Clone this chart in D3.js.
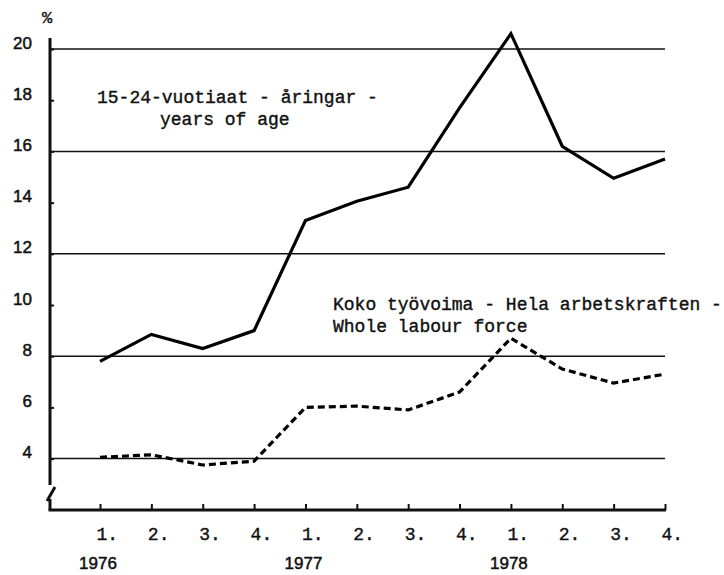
<!DOCTYPE html>
<html>
<head>
<meta charset="utf-8">
<script src="https://cdn.jsdelivr.net/npm/d3@7"></script>
<style>
  html, body { margin: 0; padding: 0; background: #fff; }
  svg { display: block; }
</style>
</head>
<body>
<svg id="chart" width="724" height="575"></svg>
<script>
// ---- data ----
const quarters = ["1.", "2.", "3.", "4.", "1.", "2.", "3.", "4.", "1.", "2.", "3.", "4."];
const years = ["1976", "1977", "1978"];
const youth = [7.8, 8.85, 8.3, 9.0, 13.3, 14.05, 14.6, 17.7, 20.6, 16.2, 14.95, 15.7];
const total = [4.05, 4.15, 3.75, 3.9, 6.0, 6.05, 5.9, 6.6, 8.7, 7.5, 6.95, 7.3];
const yTicks = [4, 6, 8, 10, 12, 14, 16, 18, 20];
const gridValues = [4, 8, 12, 16, 20];
const youthLabel = ["15-24-vuotiaat - åringar -", "years of age"];
const totalLabel = ["Koko työvoima - Hela arbetskraften -", "Whole labour force"];

// ---- layout ----
const svg = d3.select("#chart");
const axisX = 50, axisY = 510, plotRight = 665;
const x = d3.scaleLinear().domain([0, quarters.length - 1]).range([100, 665]);
const y = d3.scaleLinear().domain([4, 20]).range([458.6, 49]);
const mono = "'Liberation Mono', 'Courier New', monospace";
const sans = "'Liberation Sans', Arial, sans-serif";

// gridlines
svg.append("g").selectAll("line").data(gridValues).join("line")
  .attr("x1", axisX).attr("x2", plotRight)
  .attr("y1", d => y(d)).attr("y2", d => y(d))
  .attr("stroke", "#111").attr("stroke-width", 1.5);

// y axis (labels + small ticks)
const yAxis = d3.axisLeft(y).tickValues(yTicks).tickSizeInner(-4).tickSizeOuter(0).tickPadding(18)
  .tickFormat(d3.format("d"));
const gy = svg.append("g").attr("transform", `translate(${axisX},0)`).call(yAxis);
gy.select(".domain").remove();
gy.selectAll(".tick line").attr("stroke", "#111").attr("stroke-width", 2);
gy.selectAll(".tick text")
  .attr("dy", "-0.05em")
  .attr("font-family", sans).attr("font-size", 17).attr("fill", "#111")
  .attr("stroke", "#111").attr("stroke-width", 0.5);

// y axis line with break
svg.append("path")
  .attr("d", `M${axisX},38 L${axisX},485`)
  .attr("stroke", "#111").attr("stroke-width", 3).attr("fill", "none");
svg.append("path")
  .attr("d", `M${axisX + 5},487 L${axisX - 3},501`)
  .attr("stroke", "#111").attr("stroke-width", 3).attr("fill", "none");
svg.append("path")
  .attr("d", `M${axisX},499 L${axisX},${axisY}`)
  .attr("stroke", "#111").attr("stroke-width", 3).attr("fill", "none");

// x axis
const xAxis = d3.axisBottom(x).tickValues(d3.range(quarters.length))
  .tickSizeInner(-6).tickSizeOuter(0).tickPadding(0)
  .tickFormat(i => quarters[i]);
const gx = svg.append("g").attr("transform", `translate(0,${axisY})`).call(xAxis);
gx.select(".domain").remove();
gx.selectAll(".tick line").attr("stroke", "#111").attr("stroke-width", 2);
gx.selectAll(".tick text")
  .attr("text-anchor", "start").attr("x", -4).attr("y", 30).attr("dy", 0)
  .attr("font-family", mono).attr("font-size", 18).attr("fill", "#111")
  .attr("stroke", "#111").attr("stroke-width", 0.4);
svg.append("line")
  .attr("x1", axisX - 1.5).attr("x2", plotRight + 1)
  .attr("y1", axisY).attr("y2", axisY)
  .attr("stroke", "#111").attr("stroke-width", 3);

// year labels
svg.append("g").selectAll("text").data(years).join("text")
  .attr("x", (d, i) => x(i * 4) - 2).attr("y", 569)
  .attr("text-anchor", "middle")
  .attr("font-family", sans).attr("font-size", 17).attr("fill", "#111")
  .attr("stroke", "#111").attr("stroke-width", 0.5)
  .text(d => d);

// percent sign
svg.append("text").attr("x", 47).attr("y", 23).attr("text-anchor", "middle")
  .attr("font-family", mono).attr("font-size", 17).attr("fill", "#111")
  .attr("stroke", "#111").attr("stroke-width", 0.4)
  .text("%");

// lines
const line = d3.line().x((d, i) => x(i)).y(d => y(d));
svg.append("path").datum(youth).attr("d", line)
  .attr("fill", "none").attr("stroke", "#000").attr("stroke-width", 3.2)
  .attr("stroke-linejoin", "miter");
svg.append("path").datum(total).attr("d", line)
  .attr("fill", "none").attr("stroke", "#000").attr("stroke-width", 3.2)
  .attr("stroke-dasharray", "7,4");

// series labels
function label(lines, xs, y0, dy) {
  const g = svg.append("g");
  lines.forEach((t, i) => {
    g.append("text").attr("x", xs[i]).attr("y", y0 + i * dy)
      .attr("font-family", mono).attr("font-size", 18).attr("fill", "#111")
      .attr("stroke", "#111").attr("stroke-width", 0.4)
      .attr("xml:space", "preserve").text(t);
  });
}
label(youthLabel, [97, 160], 103, 22);
label(totalLabel, [333, 333], 310, 22);
</script>
</body>
</html>
